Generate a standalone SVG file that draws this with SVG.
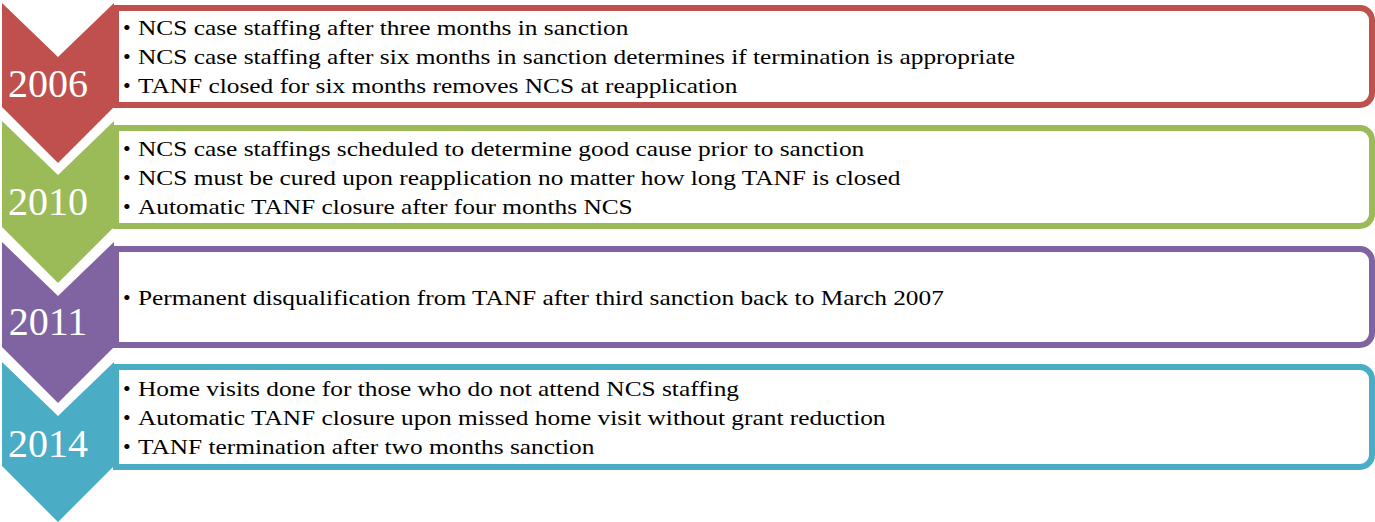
<svg xmlns="http://www.w3.org/2000/svg" width="1375" height="522" viewBox="0 0 1375 522">
<style>
.box{fill:#fff;stroke-width:6}
.yr{font-family:"Liberation Serif","DejaVu Serif",serif;font-size:40px;fill:#fff;text-anchor:middle}
.t{font-family:"Liberation Serif","DejaVu Serif",serif;font-size:22px;fill:#000}
</style>
<rect width="1375" height="522" fill="#fff"/>
<g id="n2006">
<path d="M116,8 H1360 A12,12 0 0 1 1372,20 V93 A12,12 0 0 1 1360,105 H116 Z" class="box" stroke="#C0504D"/>
<path d="M2,3 L58,57 L114,3 V107 L58,163 L2,107 Z" fill="#C0504D"/>
<text class="yr" x="48" y="97">2006</text>
<g class="t"><text class="t" x="123" y="35">•</text><text class="t" x="123" y="64">•</text><text class="t" x="123" y="93">•</text></g>
<g transform="translate(138,0) scale(1.153,1)">
<text class="t" x="0" y="35">NCS case staffing after three months in sanction</text>
<text class="t" x="0" y="64">NCS case staffing after six months in sanction determines if termination is appropriate</text>
<text class="t" x="0" y="93">TANF closed for six months removes NCS at reapplication</text>
</g>
</g>
<g id="n2010">
<path d="M116,128 H1360 A12,12 0 0 1 1372,140 V214 A12,12 0 0 1 1360,226 H116 Z" class="box" stroke="#9BBB59"/>
<path d="M2,121 L58,175 L114,121 V227 L58,283 L2,227 Z" fill="#9BBB59"/>
<text class="yr" x="48" y="215">2010</text>
<text class="t" x="123" y="156">•</text><text class="t" x="123" y="185">•</text><text class="t" x="123" y="214">•</text>
<g transform="translate(138,0) scale(1.153,1)">
<text class="t" x="0" y="156">NCS case staffings scheduled to determine good cause prior to sanction</text>
<text class="t" x="0" y="185">NCS must be cured upon reapplication no matter how long TANF is closed</text>
<text class="t" x="0" y="214">Automatic TANF closure after four months NCS</text>
</g>
</g>
<g id="n2011">
<path d="M116,249 H1360 A12,12 0 0 1 1372,261 V333 A12,12 0 0 1 1360,345 H116 Z" class="box" stroke="#8064A2"/>
<path d="M2,242 L58,296 L114,242 V347 L58,403 L2,347 Z" fill="#8064A2"/>
<text class="yr" x="48" y="335">2011</text>
<text class="t" x="123" y="305">•</text>
<g transform="translate(138,0) scale(1.153,1)">
<text class="t" x="0" y="305">Permanent disqualification from TANF after third sanction back to March 2007</text>
</g>
</g>
<g id="n2014">
<path d="M116,367 H1360 A12,12 0 0 1 1372,379 V455 A12,12 0 0 1 1360,467 H116 Z" class="box" stroke="#4BACC6"/>
<path d="M2,362 L58,416 L114,362 V466 L58,522 L2,466 Z" fill="#4BACC6"/>
<text class="yr" x="48" y="457">2014</text>
<text class="t" x="123" y="396">•</text><text class="t" x="123" y="425">•</text><text class="t" x="123" y="454">•</text>
<g transform="translate(138,0) scale(1.153,1)">
<text class="t" x="0" y="396">Home visits done for those who do not attend NCS staffing</text>
<text class="t" x="0" y="425">Automatic TANF closure upon missed home visit without grant reduction</text>
<text class="t" x="0" y="454">TANF termination after two months sanction</text>
</g>
</g>
<g id="connectors"></g>
</svg>
